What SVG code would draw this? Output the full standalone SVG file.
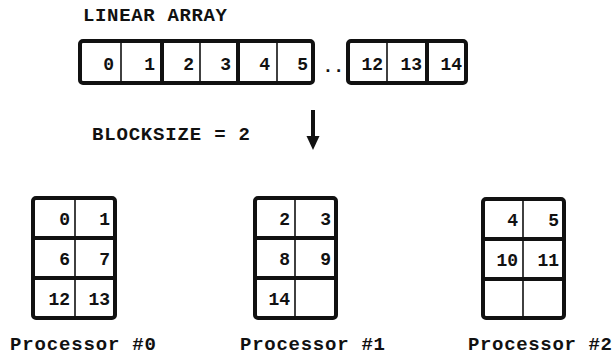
<svg xmlns="http://www.w3.org/2000/svg" width="613" height="360" viewBox="0 0 613 360">
<style>
  text { font-family: "Liberation Mono", "Courier New", monospace; font-weight: bold; fill: #111; }
  .lbl { font-size: 19px; }
  .num { font-size: 18px; text-anchor: end; }
  .box { fill: #fff; stroke: #111; stroke-width: 4; }
  .thick { stroke: #111; stroke-width: 4; }
  .thin { stroke: #111; stroke-width: 1.6; }
</style>
<rect width="613" height="360" fill="#fff"/>

<g id="title">
  <text class="lbl" x="83" y="21" textLength="144" lengthAdjust="spacing">LINEAR ARRAY</text>
</g>

<g id="linear-array">
  <rect class="box" x="80" y="41" width="233" height="42" rx="3"/>
  <line class="thin" x1="121" y1="41" x2="121" y2="83"/>
  <line class="thick" x1="162" y1="41" x2="162" y2="83"/>
  <line class="thin" x1="200" y1="41" x2="200" y2="83"/>
  <line class="thick" x1="238" y1="41" x2="238" y2="83"/>
  <line class="thin" x1="277" y1="41" x2="277" y2="83"/>
  <text class="num" x="114" y="70">0</text>
  <text class="num" x="155" y="70">1</text>
  <text class="num" x="194" y="70">2</text>
  <text class="num" x="231" y="70">3</text>
  <text class="num" x="270" y="70">4</text>
  <text class="num" x="308" y="70">5</text>
</g>

<g id="ellipsis">
  <text class="num" x="344" y="72">..</text>
</g>

<g id="linear-array-tail">
  <rect class="box" x="348" y="41" width="118" height="42" rx="3"/>
  <line class="thin" x1="387" y1="41" x2="387" y2="83"/>
  <line class="thick" x1="427" y1="41" x2="427" y2="83"/>
  <text class="num" x="383" y="70">12</text>
  <text class="num" x="422" y="70">13</text>
  <text class="num" x="462" y="70">14</text>
</g>

<g id="blocksize">
  <text class="lbl" x="92" y="140" textLength="158" lengthAdjust="spacing">BLOCKSIZE = 2</text>
</g>

<g id="connectors">
  <line x1="313" y1="110" x2="313" y2="139" stroke="#111" stroke-width="4"/>
  <polygon points="306.5,136 319.5,136 313,150" fill="#111"/>
</g>

<g id="processor-0">
  <rect class="box" x="33" y="198" width="82" height="120" rx="3"/>
  <line class="thin" x1="75" y1="198" x2="75" y2="318"/>
  <line class="thick" x1="33" y1="238" x2="115" y2="238"/>
  <line class="thick" x1="33" y1="278" x2="115" y2="278"/>
  <text class="num" x="70" y="225">0</text>
  <text class="num" x="110" y="225">1</text>
  <text class="num" x="70" y="265">6</text>
  <text class="num" x="110" y="265">7</text>
  <text class="num" x="70" y="305">12</text>
  <text class="num" x="110" y="305">13</text>
  <text class="lbl" x="10" y="350" textLength="146" lengthAdjust="spacing">Processor #0</text>
</g>

<g id="processor-1">
  <rect class="box" x="255" y="198" width="81" height="120" rx="3"/>
  <line class="thin" x1="295" y1="198" x2="295" y2="318"/>
  <line class="thick" x1="255" y1="238" x2="336" y2="238"/>
  <line class="thick" x1="255" y1="278" x2="336" y2="278"/>
  <text class="num" x="290" y="225">2</text>
  <text class="num" x="331" y="225">3</text>
  <text class="num" x="290" y="265">8</text>
  <text class="num" x="331" y="265">9</text>
  <text class="num" x="290" y="305">14</text>
  <text class="lbl" x="240" y="350" textLength="145" lengthAdjust="spacing">Processor #1</text>
</g>

<g id="processor-2">
  <rect class="box" x="483" y="199" width="81" height="119" rx="3"/>
  <line class="thin" x1="523" y1="199" x2="523" y2="318"/>
  <line class="thick" x1="483" y1="239" x2="564" y2="239"/>
  <line class="thick" x1="483" y1="279" x2="564" y2="279"/>
  <text class="num" x="518" y="226">4</text>
  <text class="num" x="559" y="226">5</text>
  <text class="num" x="518" y="266">10</text>
  <text class="num" x="559" y="266">11</text>
  <text class="lbl" x="468" y="350" textLength="144" lengthAdjust="spacing">Processor #2</text>
</g>
</svg>
